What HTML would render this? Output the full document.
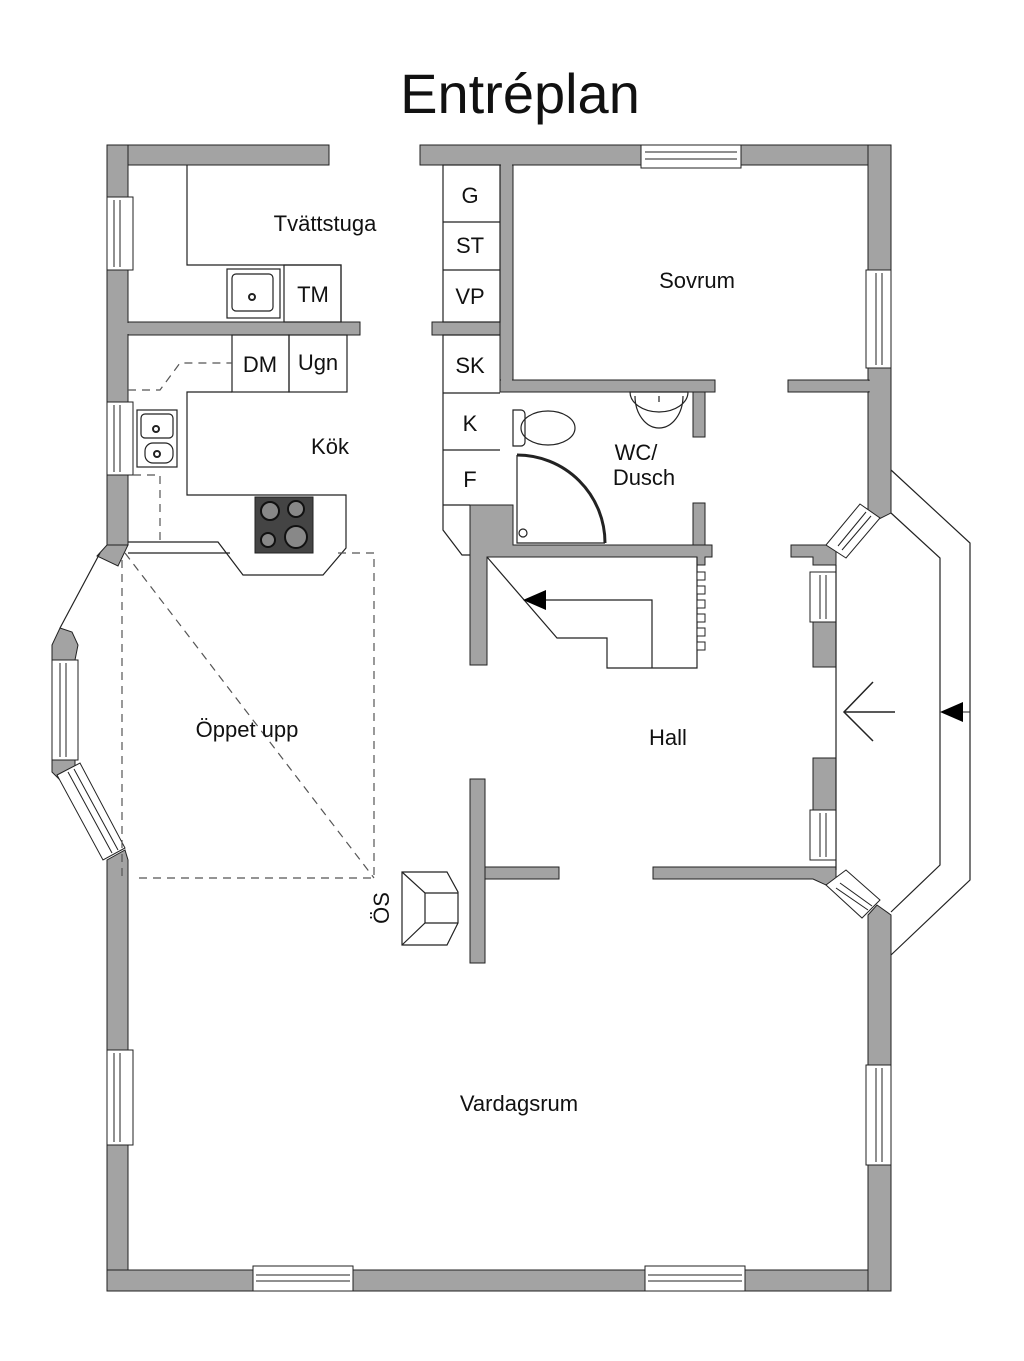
<!DOCTYPE html>
<html><head><meta charset="utf-8"><style>
html,body{margin:0;padding:0;background:#fff;}
svg{display:block;}
text{font-family:"Liberation Sans",sans-serif;fill:#111;}
</style></head><body>
<svg width="1024" height="1361" viewBox="0 0 1024 1361" xmlns="http://www.w3.org/2000/svg">
<text x="520" y="113" font-size="56" text-anchor="middle">Entréplan</text>

<g fill="#a3a3a3" stroke="#222" stroke-width="1">
<rect x="107" y="145" width="222" height="20"/>
<rect x="420" y="145" width="471" height="20"/>
<rect x="107" y="145" width="21" height="400"/>
<polygon points="107,545 128,545 118,566 97,556"/>
<polygon points="60,628 72,632 78,645 75,660 52,660 52,645"/>
<polygon points="52,760 75,760 75,775 62,782 52,772"/>
<polygon points="107,860 125,850 128,860 128,1291 107,1291"/>
<rect x="107" y="1270" width="784" height="21"/>
<polygon points="868,145 891,145 891,513 877,520 868,510"/>
<polygon points="877,905 891,915 891,1291 868,1291 868,915"/>
<rect x="128" y="322" width="232" height="13"/>
<rect x="432" y="322" width="68" height="13"/>
<rect x="500" y="165" width="13" height="215"/>
<rect x="500" y="380" width="215" height="12"/>
<rect x="693" y="392" width="12" height="45"/>
<rect x="788" y="380" width="81" height="12"/>
<polygon points="470,505 513,505 513,545 712,545 712,557 705,557 705,565 697,565 697,557 487,557 487,665 470,665"/>
<rect x="693" y="503" width="12" height="42"/>
<polygon points="791,545 836,545 836,565 813,565 813,557 791,557"/>
<rect x="813" y="622" width="23" height="45"/>
<rect x="813" y="758" width="23" height="52"/>
<polygon points="653,867 836,867 836,880 826,885 813,879 653,879"/>
<rect x="470" y="779" width="15" height="184"/>
<rect x="485" y="867" width="74" height="12"/>
</g>
<!-- hide internal seams -->
<g fill="#a3a3a3">
<rect x="108" y="146" width="19" height="18"/>
<rect x="869" y="146" width="21" height="18"/>
<rect x="108" y="1271" width="19" height="19"/>
<rect x="869" y="1271" width="21" height="19"/>
<rect x="501" y="379" width="11" height="2"/>
<rect x="501" y="164" width="11" height="2"/>
<rect x="867" y="381" width="3" height="10"/>
<rect x="127" y="323" width="2" height="11"/>
</g>

<g fill="#fff" stroke="#222" stroke-width="1">
<rect x="641" y="145" width="100" height="23"/>
<line x1="645" y1="152" x2="737" y2="152"/><line x1="645" y1="159" x2="737" y2="159"/>
<rect x="107" y="197" width="26" height="73"/>
<line x1="114" y1="200" x2="114" y2="267"/><line x1="120" y1="200" x2="120" y2="267"/>
<rect x="107" y="402" width="26" height="73"/>
<line x1="114" y1="405" x2="114" y2="472"/><line x1="120" y1="405" x2="120" y2="472"/>
<rect x="107" y="1050" width="26" height="95"/>
<line x1="114" y1="1053" x2="114" y2="1142"/><line x1="120" y1="1053" x2="120" y2="1142"/>
<rect x="866" y="270" width="25" height="98"/>
<line x1="876" y1="273" x2="876" y2="365"/><line x1="882" y1="273" x2="882" y2="365"/>
<rect x="866" y="1065" width="25" height="100"/>
<line x1="876" y1="1068" x2="876" y2="1162"/><line x1="882" y1="1068" x2="882" y2="1162"/>
<rect x="253" y="1266" width="100" height="25"/>
<line x1="256" y1="1275" x2="350" y2="1275"/><line x1="256" y1="1281" x2="350" y2="1281"/>
<rect x="645" y="1266" width="100" height="25"/>
<line x1="648" y1="1275" x2="742" y2="1275"/><line x1="648" y1="1281" x2="742" y2="1281"/>
<rect x="52" y="660" width="26" height="100"/>
<line x1="60" y1="663" x2="60" y2="757"/><line x1="66" y1="663" x2="66" y2="757"/>
<polygon points="57,775 80,763 125,848 103,860"/>
<line x1="68" y1="772" x2="112" y2="853"/><line x1="74" y1="769" x2="118" y2="850"/>
<rect x="810" y="572" width="26" height="50"/>
<line x1="820" y1="575" x2="820" y2="619"/><line x1="826" y1="575" x2="826" y2="619"/>
<rect x="810" y="810" width="26" height="50"/>
<line x1="820" y1="813" x2="820" y2="857"/><line x1="826" y1="813" x2="826" y2="857"/>
<polygon points="826,545 860,504 880,518 846,558"/>
<line x1="838" y1="546" x2="866" y2="512"/><line x1="842" y1="550" x2="871" y2="516"/>
<polygon points="826,885 846,870 880,900 862,918"/>
<line x1="836" y1="888" x2="868" y2="910"/><line x1="840" y1="883" x2="872" y2="906"/>
</g>

<g fill="none" stroke="#222" stroke-width="1.2">
<line x1="100" y1="553" x2="60" y2="628"/>
<polyline points="891,470 970,543 970,880 891,955"/>
<polyline points="891,513 940,558 940,865 891,912"/>
<line x1="836" y1="565" x2="836" y2="870"/>
<polyline points="187,165 187,265 341,265 341,322"/>
<rect x="284" y="265" width="57" height="57"/>
<rect x="227" y="269" width="53" height="49"/>
<rect x="232" y="274" width="41" height="37" rx="4"/>
<rect x="443" y="165" width="57" height="157"/>
<line x1="443" y1="222" x2="500" y2="222"/><line x1="443" y1="270" x2="500" y2="270"/>
<polyline points="500,335 443,335 443,530 462,555 470,555"/>
<line x1="443" y1="393" x2="500" y2="393"/><line x1="443" y1="450" x2="500" y2="450"/><line x1="443" y1="505" x2="470" y2="505"/>
<rect x="232" y="335" width="57" height="57"/><rect x="289" y="335" width="58" height="57"/>
<polyline points="232,392 187,392 187,495 346,495 346,548 323,575 243,575 218,542 128,542"/>
<line x1="128" y1="553" x2="230" y2="553"/>
<rect x="137" y="410" width="40" height="57"/>
<rect x="141" y="414" width="32" height="24" rx="4"/>
<rect x="145" y="443" width="28" height="20" rx="8"/>
<polyline points="487,557 557,638 607,638 607,668 697,668 697,557"/>
<polyline points="530,600 652,600 652,668"/>
<polygon points="402,872 447,872 458,892 458,923 447,945 402,945"/>
<polyline points="402,872 425,893 458,893"/><polyline points="402,945 425,923 458,923"/><line x1="425" y1="893" x2="425" y2="923"/>
<path d="M513,410 h8 a4,4 0 0 1 4,4 v28 a4,4 0 0 1 -4,4 h-8 z"/>
<ellipse cx="548" cy="428" rx="27" ry="17"/>
<path d="M630,392 a29,20 0 0 0 58,0 z"/>
<path d="M635,396 a24,32 0 0 0 48,0"/>
<path d="M517,455 A88,88 0 0 1 605,543" stroke-width="3"/>
<polyline points="517,455 517,543 605,543"/>
<circle cx="523" cy="533" r="4"/>
<line x1="659" y1="396" x2="659" y2="402"/>
</g>
<g fill="#fff" stroke="#222">
<rect x="697" y="572" width="8" height="8"/><rect x="697" y="586" width="8" height="8"/><rect x="697" y="600" width="8" height="8"/><rect x="697" y="614" width="8" height="8"/><rect x="697" y="628" width="8" height="8"/><rect x="697" y="642" width="8" height="8"/>
</g>
<g fill="none" stroke="#555" stroke-width="1.2" stroke-dasharray="8,6">
<polyline points="128,390 160,390 180,363 232,363"/>
<polyline points="133,475 160,475 160,540"/>
<polyline points="338,553 374,553 374,878 133,878"/>
<line x1="122" y1="560" x2="122" y2="878"/>
<line x1="125" y1="553" x2="374" y2="878"/>
</g>
<rect x="255" y="497" width="58" height="56" fill="#444" stroke="#222"/>
<g fill="#888" stroke="#111" stroke-width="2">
<circle cx="270" cy="511" r="9"/><circle cx="296" cy="509" r="8"/><circle cx="268" cy="540" r="7"/><circle cx="296" cy="537" r="11"/>
</g>
<circle cx="252" cy="297" r="3" fill="none" stroke="#222" stroke-width="2"/>
<circle cx="156" cy="429" r="3" fill="none" stroke="#222" stroke-width="2"/>
<circle cx="157" cy="454" r="3" fill="none" stroke="#222" stroke-width="2"/>
<polygon points="523,600 546,590 546,610" fill="#000"/>
<polygon points="940,712 963,702 963,722" fill="#000"/>
<line x1="963" y1="712" x2="970" y2="712" stroke="#222"/>
<polyline points="873,682 844,712 873,741" fill="none" stroke="#222" stroke-width="1.5"/>
<line x1="844" y1="712" x2="895" y2="712" stroke="#222" stroke-width="1.5"/>

<g font-size="22">
<text x="325" y="231" text-anchor="middle">Tvättstuga</text>
<text x="313" y="302" text-anchor="middle">TM</text>
<text x="260" y="372" text-anchor="middle">DM</text>
<text x="318" y="370" text-anchor="middle">Ugn</text>
<text x="330" y="454" text-anchor="middle">Kök</text>
<text x="470" y="203" text-anchor="middle">G</text>
<text x="470" y="253" text-anchor="middle">ST</text>
<text x="470" y="304" text-anchor="middle">VP</text>
<text x="470" y="373" text-anchor="middle">SK</text>
<text x="470" y="431" text-anchor="middle">K</text>
<text x="470" y="487" text-anchor="middle">F</text>
<text x="697" y="288" text-anchor="middle">Sovrum</text>
<text x="636" y="460" text-anchor="middle">WC/</text>
<text x="644" y="485" text-anchor="middle">Dusch</text>
<text x="668" y="745" text-anchor="middle">Hall</text>
<text x="247" y="737" text-anchor="middle">Öppet upp</text>
<text x="519" y="1111" text-anchor="middle">Vardagsrum</text>
<text transform="translate(389,908) rotate(-90)" text-anchor="middle">ÖS</text>
</g>
</svg>
</body></html>
